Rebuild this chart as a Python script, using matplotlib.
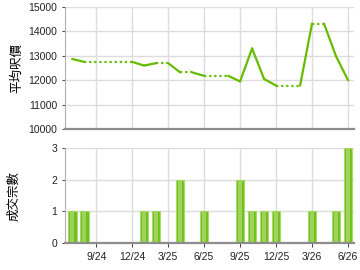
import matplotlib
matplotlib.use('Agg')
import matplotlib.pyplot as plt

# 成交月份 / 宗數 / 平均呎價
months = ['7/24', '8/24', '1/25', '2/25', '4/25', '6/25', '9/25',
          '10/25', '11/25', '12/25', '3/26', '5/26', '6/26']
counts = [1, 1, 1, 1, 2, 1, 2, 1, 1, 1, 1, 1, 3]
prices = [12870, 12750, 12600, 12700, 12320, 12180, 11950,
          13300, 12050, 11780, 14320, 12980, 12000]
tick_labels = ['9/24', '12/24', '3/25', '6/25', '9/25', '12/25', '3/26', '6/26']

plt.rcParams['font.family'] = ['Liberation Sans', 'Noto Sans CJK TC', 'DejaVu Sans']


def month_index(s):
    m, y = s.split('/')
    return (int(y) - 24) * 12 + int(m) - 9


xs = [month_index(m) for m in months]
ticks = [month_index(t) for t in tick_labels]

green = '#66bb00'
grid_c = '#dcdcdc'

fig = plt.figure(figsize=(3.6, 2.7), dpi=100)
ax1 = fig.add_axes([0.1806, 0.5222, 0.8028, 0.4519])
ax2 = fig.add_axes([0.1806, 0.0989, 0.8028, 0.354])

for ax in (ax1, ax2):
    ax.set_xlim(-2.6, 21.5)
    ax.set_xticks(ticks)
    ax.grid(True, color=grid_c, linewidth=1)
    ax.set_axisbelow(True)
    for s in ('top', 'right'):
        ax.spines[s].set_visible(False)
    ax.spines['left'].set_color('#b0b0b0')
    ax.spines['left'].set_linewidth(0.8)
    ax.spines['bottom'].set_color('#8c8c8c')
    ax.spines['bottom'].set_linewidth(1.6)
    ax.tick_params(labelsize=7.5, colors='#222222', length=3, width=0.6)
    ax.tick_params(axis='y', length=2)

# 平均呎價 line: dotted across months without transactions
for i in range(len(xs) - 1):
    x0, x1 = xs[i], xs[i + 1]
    p0, p1 = prices[i], prices[i + 1]
    if x1 - x0 > 1:
        ax1.plot([x0, x1 - 1], [p0, p0], color=green, lw=1.6,
                 linestyle=(0, (1, 1.3)))
        ax1.plot([x1 - 1, x1], [p0, p1], color=green, lw=1.6,
                 solid_capstyle='round')
    else:
        ax1.plot([x0, x1], [p0, p1], color=green, lw=1.6,
                 solid_capstyle='round')

ax1.set_ylim(10000, 15000)
ax1.set_yticks(range(10000, 15001, 1000))
ax1.tick_params(axis='x', labelbottom=False, length=0)
ax1.set_ylabel('平均呎價', fontsize=9, family=['Noto Sans CJK TC'], labelpad=4)

# 成交宗數 bars
ax2.bar(xs, counts, width=0.72, color='#74bf1c', edgecolor='#a6da6a', linewidth=0.8)
ax2.bar(xs, counts, width=0.3, color='#9ed25a', linewidth=0)
ax2.set_ylim(0, 3)
ax2.set_yticks([0, 1, 2, 3])
ax2.set_xticklabels(tick_labels)
ax2.set_ylabel('成交宗數', fontsize=9, family=['Noto Sans CJK TC'])
ax2.yaxis.set_label_coords(-0.155, 0.5)

fig.savefig('out.png', dpi=100)
